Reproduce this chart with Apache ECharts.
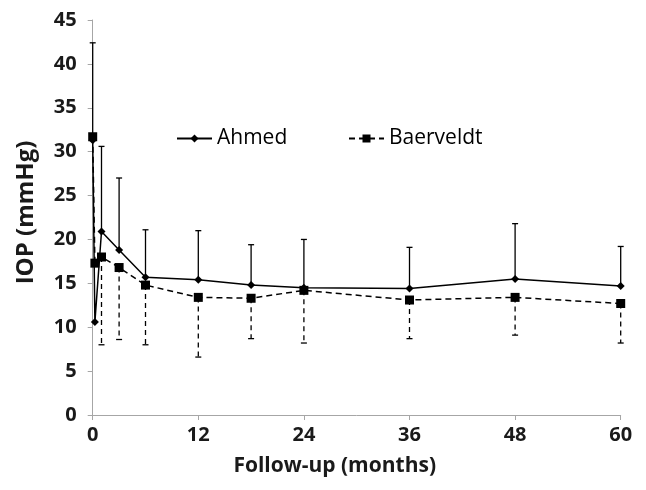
<!DOCTYPE html>
<html>
<head>
<meta charset="utf-8">
<script src="https://cdn.jsdelivr.net/npm/echarts@6/dist/echarts.min.js"></script>
<style>html,body{margin:0;padding:0;background:#fff;}#c{width:646px;height:490px;}</style>
</head>
<body>
<div id="c"></div>
<script>
// Follow-up time points (months)
var months = [0, 0.25, 1, 3, 6, 12, 18, 24, 36, 48, 60];
// Mean IOP (mmHg)
var ahmed = [31.3, 10.6, 20.9, 18.8, 15.7, 15.4, 14.8, 14.5, 14.4, 15.5, 14.7];
var baerveldt = [31.7, 17.3, 18.0, 16.8, 14.8, 13.4, 13.3, 14.2, 13.1, 13.4, 12.7];
// Error bar ends (Ahmed: upper, Baerveldt: lower)
var ahmedUpper = [42.4, null, 30.6, 27.0, 21.1, 21.0, 19.4, 20.0, 19.1, 21.8, 19.2];
var baerveldtLower = [null, null, 8.0, 8.6, 8.0, 6.6, 8.7, 8.2, 8.7, 9.1, 8.2];
var xTicks = [0, 12, 24, 36, 48, 60];
var seriesNames = ['Ahmed', 'Baerveldt'];

function pairs(vals) { return months.map(function (m, i) { return [m, vals[i]]; }); }
function errData(vals, ends) {
  var out = [];
  months.forEach(function (m, i) { if (ends[i] != null) out.push([m, vals[i], ends[i]]); });
  return out;
}
function errRender(dash) {
  return function (params, api) {
    var p0 = api.coord([api.value(0), api.value(1)]);
    var p1 = api.coord([api.value(0), api.value(2)]);
    var st = { stroke: '#000', lineWidth: 1.3, lineDash: dash };
    return {
      type: 'group',
      children: [
        { type: 'line', shape: { x1: p0[0], y1: p0[1], x2: p1[0], y2: p1[1] }, style: st },
        { type: 'line', shape: { x1: p1[0] - 3, y1: p1[1], x2: p1[0] + 3, y2: p1[1] }, style: { stroke: '#000', lineWidth: 1.3 } }
      ]
    };
  };
}

var chart = echarts.init(document.getElementById('c'), null, { renderer: 'canvas' });
var tickFont = { fontFamily: 'Open Sans', fontWeight: 'bold', fontSize: 20, color: '#1a1a1a' };
chart.setOption({
  animation: false,
  backgroundColor: '#fff',
  grid: { left: 92.7, right: 25.3, top: 20, bottom: 75, containLabel: false },
  legend: [
    { data: [seriesNames[0]], left: 171, top: 123, itemWidth: 35, itemHeight: 10, itemGap: 0,
      textStyle: { fontFamily: 'Open Sans', fontSize: 21, color: '#000' } },
    { data: [seriesNames[1]], left: 343, top: 123, itemWidth: 35, itemHeight: 10, itemGap: 0,
      textStyle: { fontFamily: 'Open Sans', fontSize: 21, color: '#000' } }
  ],
  xAxis: {
    type: 'value', min: 0, max: 60, interval: 12,
    name: 'Follow-up (months)', nameLocation: 'middle', nameGap: 41,
    nameTextStyle: { fontFamily: 'Open Sans', fontWeight: 'bold', fontSize: 21, color: '#1a1a1a', padding: [0, 44, 0, 0] },
    axisLine: { lineStyle: { color: '#a6a6a6', width: 1 } },
    axisTick: { show: true, length: 5, lineStyle: { color: '#a6a6a6' } },
    axisLabel: Object.assign({ margin: 10, customValues: xTicks }, tickFont),
    splitLine: { show: false }
  },
  yAxis: {
    type: 'value', min: 0, max: 45, interval: 5,
    name: 'IOP (mmHg)', nameLocation: 'middle', nameGap: 55, nameRotate: 90,
    nameTextStyle: { fontFamily: 'Open Sans', fontWeight: 'bold', fontSize: 24, color: '#1a1a1a', padding: [0, 0, 0, 10] },
    axisLine: { show: true, lineStyle: { color: '#a6a6a6', width: 1 } },
    axisTick: { show: true, length: 5, lineStyle: { color: '#a6a6a6' } },
    axisLabel: Object.assign({ margin: 16 }, tickFont),
    splitLine: { show: false }
  },
  series: [
    { type: 'custom', renderItem: errRender(null), data: errData(ahmed, ahmedUpper), z: 1, silent: true,
      encode: { x: 0, y: [1, 2] } },
    { type: 'custom', renderItem: errRender([5, 4]), data: errData(baerveldt, baerveldtLower), z: 1, silent: true,
      encode: { x: 0, y: [1, 2] } },
    { name: seriesNames[0], type: 'line', data: pairs(ahmed), z: 3,
      symbol: 'diamond', symbolSize: 8, showAllSymbol: true,
      lineStyle: { color: '#000', width: 1.5 }, itemStyle: { color: '#000' } },
    { name: seriesNames[1], type: 'line', data: pairs(baerveldt), z: 2,
      symbol: 'rect', symbolSize: 9, showAllSymbol: true,
      lineStyle: { color: '#000', width: 1.5, type: [6, 4] }, itemStyle: { color: '#000' } }
  ]
});
</script>
</body>
</html>
